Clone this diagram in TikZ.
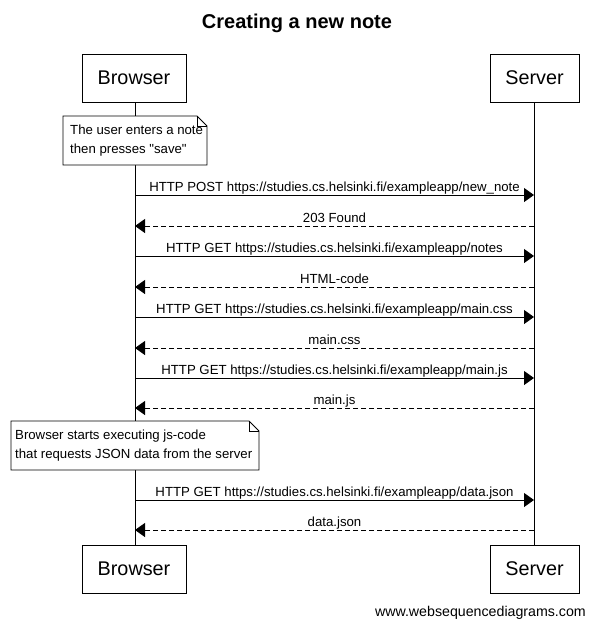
\documentclass[tikz,border=0pt]{standalone}
\usepackage{fontspec}
\setmainfont{Liberation Sans}
\newfontfamily\plainqfont{Liberation Sans}
\newcommand{\dq}{{\plainqfont\char34}}
\usetikzlibrary{arrows.meta}
\begin{document}
\begin{tikzpicture}[x=1pt,y=-1pt,
  actor/.style={draw,line width=0.9pt,minimum width=104pt,minimum height=48pt,inner sep=0pt,font=\fontsize{19.8}{22}\selectfont,fill=white},
  lifeline/.style={line width=0.9pt},
  msg/.style={line width=0.9pt,-{Triangle[length=10pt,width=14pt]}},
  reply/.style={msg,dash pattern=on 5pt off 3pt},
  lbl/.style={font=\fontsize{13.2}{15}\selectfont,inner sep=0pt,anchor=base},
  notetext/.style={font=\fontsize{13.2}{19}\selectfont,align=left,inner sep=0pt,anchor=west},
  notebox/.style={draw,fill=white,line width=0.9pt}
]
\useasboundingbox (0,0) rectangle (594,627);
\node[font=\bfseries\fontsize{20}{22}\selectfont] (title) at (297,23) {Creating a new note};

\node[actor] (bt) at (134,78) {Browser};
\node[actor,minimum width=89pt] (st) at (534.5,78) {Server};
\node[actor] (bb) at (134,569) {Browser};
\node[actor,minimum width=89pt] (sb) at (534.5,569) {Server};

\coordinate (bl0) at (135,102);
\coordinate (bl1) at (135,545);
\coordinate (sl0) at (534,102);
\coordinate (sl1) at (534,545);
\draw[lifeline] (bl0) -- (bl1);
\draw[lifeline] (sl0) -- (sl1);

% note 1
\draw[notebox] (63,116) -- (197,116) -- (207,126) -- (207,165) -- (63,165) -- cycle;
\draw[line width=0.9pt] (197,116) -- (197,126) -- (207,126);
\node[notetext] (n1) at (70,141) {The user enters a note\\then presses \dq save\dq};

% messages
\foreach \y/\t/\s [count=\i] in {
  195/{HTTP POST https://studies.cs.helsinki.fi/exampleapp/new\_note}/msg,
  226/{203 Found}/reply,
  256/{HTTP GET https://studies.cs.helsinki.fi/exampleapp/notes}/msg,
  287/{HTML-code}/reply,
  317/{HTTP GET https://studies.cs.helsinki.fi/exampleapp/main.css}/msg,
  348/{main.css}/reply,
  378/{HTTP GET https://studies.cs.helsinki.fi/exampleapp/main.js}/msg,
  408/{main.js}/reply,
  500/{HTTP GET https://studies.cs.helsinki.fi/exampleapp/data.json}/msg,
  530/{data.json}/reply}{
  \coordinate (mb\i) at (135,\y);
  \coordinate (ms\i) at (534,\y);
  \ifodd\i
    \draw[\s] (mb\i) -- (ms\i);
  \else
    \draw[\s] (ms\i) -- (mb\i);
  \fi
  \node[lbl] (ml\i) at (334.5,\y-4) {\t};
}

% note 2
\draw[notebox] (11,421) -- (249,421) -- (259,431) -- (259,470) -- (11,470) -- cycle;
\draw[line width=0.9pt] (249,421) -- (249,431) -- (259,431);
\node[notetext] (n2) at (15,446) {Browser starts executing js-code\\that requests JSON data from the server};

\node[font=\fontsize{14.2}{16}\selectfont,anchor=base east,inner sep=0pt] (wm) at (586,616) {www.websequencediagrams.com};
\end{tikzpicture}
\end{document}
